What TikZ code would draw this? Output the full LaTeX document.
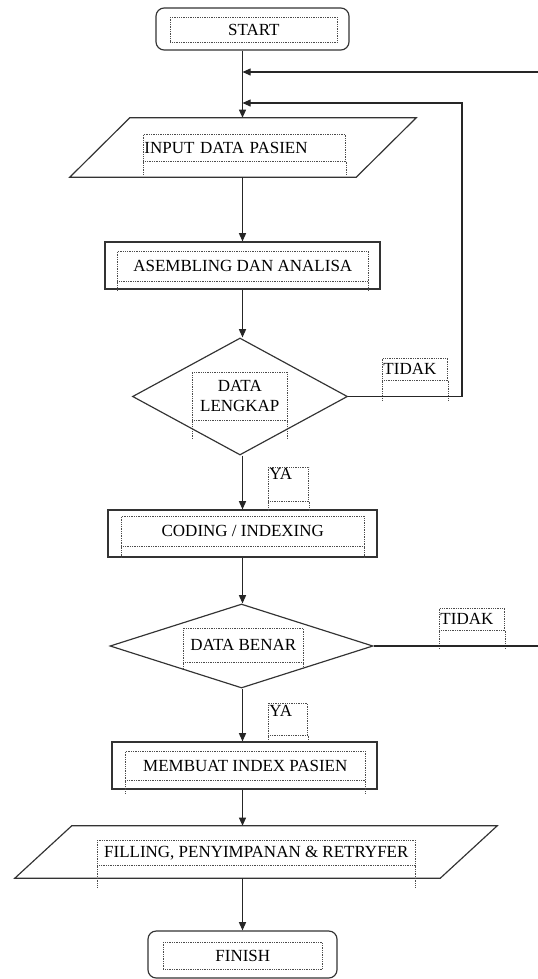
\documentclass[tikz,border=0pt]{standalone}
\usepackage{fontspec}
\setmainfont{Liberation Serif}
\usetikzlibrary{shapes.geometric,arrows.meta,calc}
\newcommand{\pxu}{0.03cm}

\begin{document}
\begin{tikzpicture}[
    x=0.03cm, y=-0.03cm,
    flow/.style={draw=black!80, line width=1pt, inner sep=0pt},
    term/.style={flow, rectangle, rounded corners=7pt},
    proc/.style={flow, rectangle},
    io/.style={rectangle, inner sep=0pt},
    dec/.style={flow, diamond},
    lbl/.style={draw=black!70, densely dotted, line width=0.5pt, inner xsep=1pt, inner ysep=0pt, anchor=north west, font=\fontsize{14.5}{17}\selectfont},
    tail/.style={draw=black!70, densely dotted, line width=0.5pt},
    arrow/.style={-{Triangle[length=7pt,width=6pt]}, draw=black!85, line width=1pt}
]
    \useasboundingbox (0,0) rectangle (538,979);

    % flow shapes
    \node[term, minimum width=193*\pxu, minimum height=42*\pxu] (start) at (252.5,29) {};
    \node[io, minimum width=346*\pxu, minimum height=59*\pxu] (inp) at (243,147.5) {};
    \node[proc, minimum width=275*\pxu, minimum height=47*\pxu] (asm) at (242.5,265.5) {};
    \node[dec, minimum width=215*\pxu, minimum height=117*\pxu] (dl) at (240,396.5) {};
    \node[proc, minimum width=269*\pxu, minimum height=47*\pxu] (cod) at (242.5,533.5) {};
    \node[dec, minimum width=263*\pxu, minimum height=84*\pxu] (db) at (241.5,646) {};
    \node[proc, minimum width=265*\pxu, minimum height=47*\pxu] (mem) at (244.5,765.5) {};
    \node[io, minimum width=482*\pxu, minimum height=52*\pxu] (fil) at (256,852) {};
    \node[term, minimum width=189*\pxu, minimum height=47*\pxu] (fin) at (242.5,954.5) {};

    % parallelograms for the input/output steps
    \draw[flow] (inp.south west) -- ($(inp.north west)+(60,0)$) -- (inp.north east)
        -- ($(inp.south east)+(-60,0)$) -- cycle;
    \draw[flow] (fil.south west) -- ($(fil.north west)+(57,0)$) -- (fil.north east)
        -- ($(fil.south east)+(-57,0)$) -- cycle;

    % dotted text boxes
    \node[lbl, align=center, minimum width=167*\pxu, minimum height=25*\pxu] (tStart) at (170,17) {START};
    \node[lbl, align=left, text width=200*\pxu, minimum height=27*\pxu] (tInp) at (143,134) {INPUT DATA PASIEN};
    \node[lbl, align=center, minimum width=251*\pxu, minimum height=30*\pxu] (tAsm) at (117,251) {ASEMBLING DAN ANALISA};
    \node[lbl, align=center, minimum width=95*\pxu, minimum height=48*\pxu] (tDl) at (192,372) {DATA\\LENGKAP};
    \node[lbl, align=left, text width=63*\pxu, minimum height=22*\pxu] (tNo1) at (382,358) {TIDAK};
    \node[lbl, align=left, text width=38*\pxu, text height=12.7*\pxu, text depth=21.3*\pxu] (tYes1) at (268,467) {YA};
    \node[lbl, align=center, minimum width=243*\pxu, minimum height=30*\pxu] (tCod) at (121,516) {CODING / INDEXING};
    \node[lbl, align=center, minimum width=120*\pxu, minimum height=34*\pxu] (tDb) at (183,628) {DATA BENAR};
    \node[lbl, align=left, text width=63*\pxu, minimum height=22*\pxu] (tNo2) at (439,608) {TIDAK};
    \node[lbl, align=left, text width=37*\pxu, text height=12.7*\pxu, text depth=19.3*\pxu] (tYes2) at (268,703) {YA};
    \node[lbl, align=center, minimum width=240*\pxu, minimum height=29*\pxu] (tMem) at (125,751) {MEMBUAT INDEX PASIEN};
    \node[lbl, align=center, minimum width=318*\pxu, minimum height=25*\pxu] (tFil) at (97,840) {FILLING, PENYIMPANAN \& RETRYFER};
    \node[lbl, align=center, minimum width=159*\pxu, minimum height=27*\pxu] (tFin) at (163,942) {FINISH};

    \foreach \n/\d in {tInp/14, tAsm/10, tDl/18, tNo1/20, tCod/12, tDb/6, tNo2/18, tYes1/9, tYes2/5, tMem/14, tFil/22}
        \draw[tail] (\n.south west) -- ++(0,\d) (\n.south east) -- ++(0,\d);

    % connectors
    \coordinate (col) at (242.5,0);
    \coordinate (j1) at (242.5,103);
    \coordinate (j2) at (242.5,72);
    \coordinate (r1) at (462,103);
    \coordinate (r2) at (541,72);

    \draw[arrow] (start.south -| col) -- (inp.north -| col);
    \draw[arrow] (inp.south -| col) -- (asm.north -| col);
    \draw[arrow] (asm.south -| col) -- (dl.north -| col);
    \draw[arrow] (dl.south -| col) -- (cod.north -| col);
    \draw[arrow] (cod.south -| col) -- (db.north -| col);
    \draw[arrow] (db.south -| col) -- (mem.north -| col);
    \draw[arrow] (mem.south -| col) -- (fil.north -| col);
    \draw[arrow] (fil.south -| col) -- (fin.north -| col);

    \draw[arrow] (dl.east) -| (r1) -- (j1);
    \draw[arrow] (db.east) -| (r2) -- (j2);
\end{tikzpicture}
\end{document}
